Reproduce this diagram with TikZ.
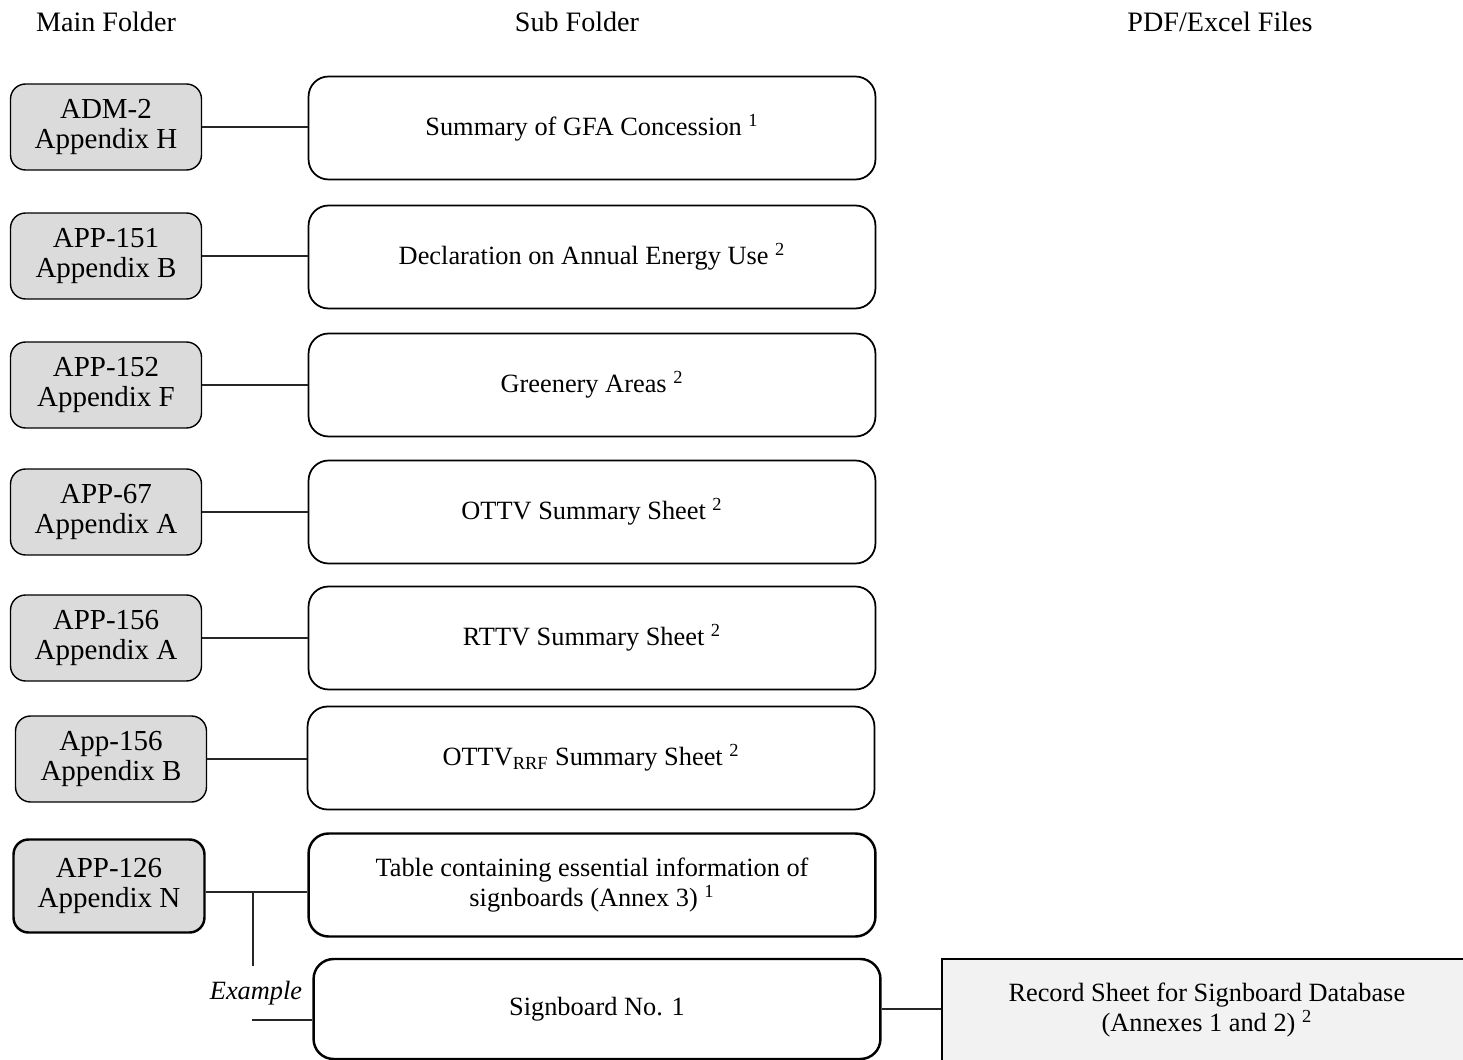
\documentclass[tikz,border=0pt]{standalone}
\usepackage{fontspec}
\setmainfont{Liberation Serif}
\usetikzlibrary{positioning,calc}
\tikzset{%
	heading/.style   = {font=\fontsize{16}{20}\selectfont},
	mainfolder/.style= {draw, rectangle, rounded corners=0.3cm, fill=gray!28, line width=0.8pt, minimum width=3.82cm, minimum height=1.72cm, align=center, font=\fontsize{16.5}{17.5}\selectfont},
	subfolder/.style = {draw, rectangle, rounded corners=0.4cm, line width=1pt, minimum width=11.34cm, minimum height=2.06cm, align=center, font=\fontsize{15}{17}\selectfont},
	fileitem/.style  = {draw, rectangle, fill=gray!10, line width=1pt, minimum width=10.6cm, minimum height=2.04cm, align=center, font=\fontsize{15}{17}\selectfont},
	link/.style      = {line width=0.6pt, black!85},
}
\begin{document}
\begin{tikzpicture}[x=0.02cm, y=-0.02cm]
		\useasboundingbox (0,0) rectangle (1463,1060);
		% column headings
		\node[heading] (hmain) at (106,22) {Main Folder};
		\node[heading] (hsub) at (577,22) {Sub Folder};
		\node[heading] (hfile) at (1220,22) {PDF/Excel Files};
		
		% main folders
		\node[mainfolder] (adm2) at (106,127) {ADM-2\\Appendix H};
		\node[mainfolder] (app151) at (106,256) {APP-151\\Appendix B};
		\node[mainfolder] (app152) at (106,385) {APP-152\\Appendix F};
		\node[mainfolder] (app67) at (106,512) {APP-67\\Appendix A};
		\node[mainfolder] (app156a) at (106,638) {APP-156\\Appendix A};
		\node[mainfolder] (app156b) at (111,759) {App-156\\Appendix B};
		\node[mainfolder, line width=1.4pt, minimum height=1.86cm] (app126) at (109,886) {APP-126\\Appendix N};
		
		% sub folders
		\node[subfolder] (gfa) at (592,128) {Summary of GFA Concession \textsuperscript{1}};
		\node[subfolder] (energy) at (592,257) {Declaration on Annual Energy Use \textsuperscript{2}};
		\node[subfolder] (green) at (592,385) {Greenery Areas \textsuperscript{2}};
		\node[subfolder] (ottv) at (592,512) {OTTV Summary Sheet \textsuperscript{2}};
		\node[subfolder] (rttv) at (592,638) {RTTV Summary Sheet \textsuperscript{2}};
		\node[subfolder] (ottvrrf) at (591,758) {OTTV\textsubscript{RRF} Summary Sheet \textsuperscript{2}};
		\node[subfolder, line width=1.4pt] (table) at (592,885) {Table containing essential information of\\signboards (Annex 3) \textsuperscript{1}};
		\node[subfolder, line width=1.4pt, minimum height=2cm] (sign) at (597,1009) {Signboard No. 1};
		
		% files
		\node[fileitem, anchor=west] (record) at (941,1010) {Record Sheet for Signboard Database\\(Annexes 1 and 2) \textsuperscript{2}};
		
		% links
		\draw[link] (adm2.east) -- (adm2.east -| gfa.west);
		\draw[link] (app151.east) -- (app151.east -| energy.west);
		\draw[link] (app152.east) -- (app152.east -| green.west);
		\draw[link] (app67.east) -- (app67.east -| ottv.west);
		\draw[link] (app156a.east) -- (app156a.east -| rttv.west);
		\draw[link] (app156b.east) -- (app156b.east -| ottvrrf.west);
		\draw[link] ($(app126.east)+(0,6)$) coordinate (split0) -- (split0 -| table.west);
		\coordinate (split) at (253,892);
		\coordinate (splitend) at (253,966);
		\draw[link] (split) -- (splitend);
		\node[font=\fontsize{15}{17}\selectfont\itshape] (example) at (256,993) {Example};
		\coordinate (exin) at (252,1020);
		\draw[link] (exin) -- (exin -| sign.west);
		\draw[link] (sign.east) -- (sign.east -| record.west);
		\end{tikzpicture}
\end{document}
